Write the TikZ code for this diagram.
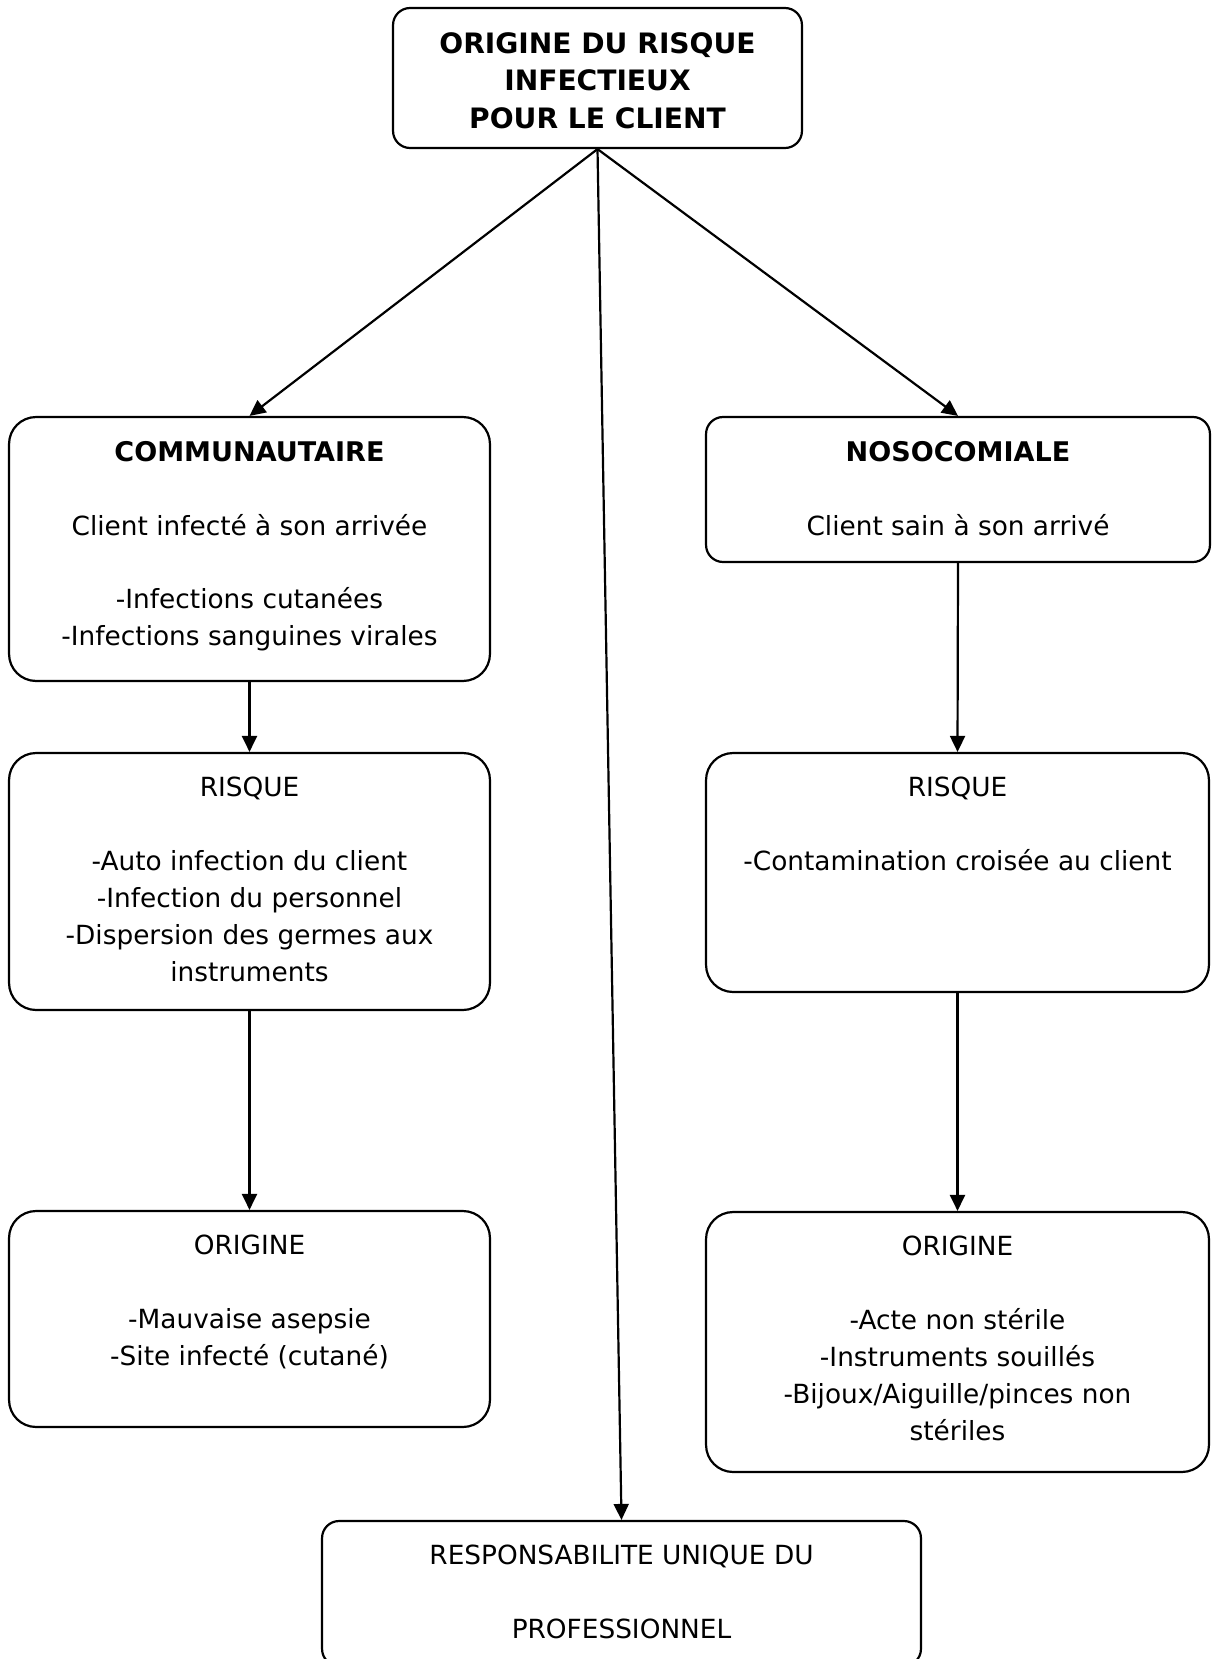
\documentclass[tikz,border=0pt]{standalone}
\usepackage{fontspec}
\setmainfont{DejaVu Sans}
\usetikzlibrary{arrows.meta}

\begin{document}
\begin{tikzpicture}[
    x=0.02cm, y=-0.02cm,
    box/.style={draw=black, line width=1.25pt, rounded corners=0.54cm, inner sep=0pt},
    flatbox/.style={box, rounded corners=0.34cm},
    boxtext/.style={anchor=north, align=center, inner sep=0pt, font=\fontsize{15pt}{21pt}\selectfont},
    boldtext/.style={boxtext, font=\fontsize{16pt}{21.5pt}\selectfont\bfseries},
    arrow/.style={-{Triangle[length=3.2mm, width=3mm]}, draw=black, line width=1.25pt}
  ]
    % page frame, 1211 x 1659 px (1 px = 0.02cm)
    \useasboundingbox (0,0) rectangle (1211,1659);
    \clip (0,0) rectangle (1211,1659);

    % boxes (centres in px, sizes in cm)
    \node[flatbox, minimum width=8.18cm,  minimum height=2.80cm] (origine)  at (597.5,78)    {};
    \node[box,     minimum width=9.62cm,  minimum height=5.28cm] (commu)    at (249.5,549)   {};
    \node[flatbox, minimum width=10.08cm, minimum height=2.90cm] (noso)     at (958,489.5)   {};
    \node[box,     minimum width=9.62cm,  minimum height=5.14cm] (risqcom)  at (249.5,881.5) {};
    \node[box,     minimum width=10.06cm, minimum height=4.78cm] (risqnoso) at (957.5,872.5) {};
    \node[box,     minimum width=9.62cm,  minimum height=4.32cm] (origcom)  at (249.5,1319)  {};
    \node[box,     minimum width=10.06cm, minimum height=5.20cm] (orignoso) at (957.5,1342)  {};
    \node[flatbox, minimum width=11.98cm, minimum height=2.90cm] (respo)    at (621.5,1593.5) {};

    % texts, hung from the top of each box
    \node[boldtext] (originetxt) at ([yshift=-0.5cm]origine.north) {ORIGINE DU RISQUE\\INFECTIEUX\\POUR LE CLIENT};
    \node[boxtext] (commutxt) at ([yshift=-0.5cm]commu.north)
      {{\fontsize{15.4pt}{21pt}\selectfont\bfseries COMMUNAUTAIRE}\\[21pt]Client infecté à son arrivée\\[21pt]-Infections cutanées\\-Infections sanguines virales};
    \node[boxtext] (nosotxt) at ([yshift=-0.5cm]noso.north)
      {{\fontsize{15.4pt}{21pt}\selectfont\bfseries NOSOCOMIALE}\\[21pt]Client sain à son arrivé};
    \node[boxtext] (risqcomtxt) at ([yshift=-0.5cm]risqcom.north)
      {RISQUE\\[21pt]-Auto infection du client\\-Infection du personnel\\-Dispersion des germes aux\\instruments};
    \node[boxtext] (risqnosotxt) at ([yshift=-0.5cm]risqnoso.north)
      {RISQUE\\[21pt]-Contamination croisée au client};
    \node[boxtext] (origcomtxt) at ([yshift=-0.5cm]origcom.north)
      {ORIGINE\\[21pt]-Mauvaise asepsie\\-Site infecté (cutané)};
    \node[boxtext] (orignosotxt) at ([yshift=-0.5cm]orignoso.north)
      {ORIGINE\\[21pt]-Acte non stérile\\-Instruments souillés\\-Bijoux/Aiguille/pinces non\\stériles};
    \node[boxtext] (respotxt) at ([yshift=-0.5cm]respo.north)
      {RESPONSABILITE UNIQUE DU\\[21pt]PROFESSIONNEL};

    \draw[arrow] (origine.south) -- (commu.north);
    \draw[arrow] (origine.south) -- (noso.north);
    \draw[arrow] (origine.south) -- (respo.north);
    \draw[arrow] (commu.south)   -- (risqcom.north);
    \draw[arrow] (risqcom.south) -- (origcom.north);
    \draw[arrow] (noso.south)    -- (risqnoso.north);
    \draw[arrow] (risqnoso.south) -- (orignoso.north);
  \end{tikzpicture}
\end{document}
